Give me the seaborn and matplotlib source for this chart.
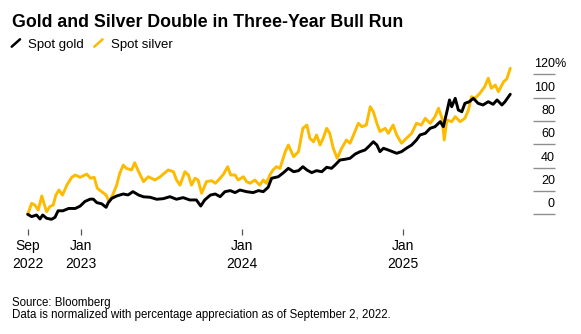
import matplotlib
matplotlib.use("Agg")
import matplotlib.pyplot as plt
import pandas as pd
import seaborn as sns

# Percentage change since 2022-09-02
gold_dates = [
    "2022-09-02", "2022-09-11", "2022-09-22", "2022-09-30", "2022-10-06", "2022-10-15",
    "2022-10-26", "2022-11-03", "2022-11-10", "2022-11-21", "2022-12-04", "2022-12-19",
    "2022-12-30", "2023-01-10", "2023-01-22", "2023-01-29", "2023-02-06", "2023-02-17",
    "2023-02-27", "2023-03-04", "2023-03-12", "2023-03-23", "2023-04-07", "2023-04-18",
    "2023-04-29", "2023-05-12", "2023-05-23", "2023-06-07", "2023-06-22", "2023-07-07",
    "2023-07-22", "2023-08-06", "2023-08-21", "2023-09-05", "2023-09-20", "2023-09-30",
    "2023-10-09", "2023-10-22", "2023-11-02", "2023-11-13", "2023-11-24", "2023-12-06",
    "2023-12-17", "2023-12-28", "2024-01-12", "2024-01-27", "2024-02-08", "2024-02-19",
    "2024-03-01", "2024-03-09", "2024-03-24", "2024-04-05", "2024-04-16", "2024-04-28",
    "2024-05-09", "2024-05-19", "2024-05-28", "2024-06-08", "2024-06-19", "2024-07-01",
    "2024-07-12", "2024-07-23", "2024-07-31", "2024-08-11", "2024-08-22", "2024-09-03",
    "2024-09-15", "2024-09-26", "2024-10-07", "2024-10-15", "2024-10-26", "2024-11-03",
    "2024-11-10", "2024-11-18", "2024-11-29", "2024-12-18", "2024-12-29", "2025-01-09",
    "2025-01-21", "2025-02-01", "2025-02-09", "2025-02-21", "2025-03-04", "2025-03-15",
    "2025-03-27", "2025-04-03", "2025-04-11", "2025-04-17", "2025-04-22", "2025-04-30",
    "2025-05-07", "2025-05-15", "2025-05-22", "2025-06-01", "2025-06-10", "2025-06-21",
    "2025-07-02", "2025-07-14", "2025-07-25", "2025-08-03", "2025-08-14", "2025-08-21",
    "2025-09-02",
]
gold_pct = [
    0, -2, -0.6, -4, -0.6, -3.4,
    -4.3, -2.6, 3, 3, 5, 5,
    7, 11, 13, 13, 10, 9,
    6, 10, 13.7, 15.7, 17.4, 16.6,
    19.4, 16.5, 15, 14.6, 12.9, 13.4,
    15.1, 12.9, 14.3, 12.3, 12.3, 7.1,
    12.3, 16.5, 17.4, 15.1, 19.4, 20.3,
    18.6, 20.8, 19.4, 18.6, 20.3, 19.4,
    23.1, 30.9, 32.2, 35.7, 39.4, 36.5,
    37.4, 40.8, 38, 35.7, 37.4, 36.5,
    40.3, 39.4, 42.2, 46.5, 47.1, 48,
    51.7, 53.7, 55.1, 57.9, 62.2, 59.4,
    53.7, 56.6, 55.1, 52.3, 53.7, 56.6,
    59.4, 63.7, 68, 69.4, 73.7, 75.1,
    79.4, 75.1, 87.9, 98, 92.2, 99.4,
    89.4, 87.9, 95.1, 96.5, 99.4, 95.1,
    93.7, 96.5, 94.3, 98, 93.7, 96.5,
    102.9,
]

silver_dates = [
    "2022-09-02", "2022-09-11", "2022-09-18", "2022-09-26", "2022-10-04", "2022-10-09",
    "2022-10-15", "2022-10-22", "2022-10-30", "2022-11-05", "2022-11-12", "2022-11-20",
    "2022-11-30", "2022-12-11", "2022-12-19", "2022-12-30", "2023-01-14", "2023-01-23",
    "2023-01-31", "2023-02-07", "2023-02-17", "2023-02-27", "2023-03-06", "2023-03-14",
    "2023-03-23", "2023-03-30", "2023-04-07", "2023-04-14", "2023-04-26", "2023-05-03",
    "2023-05-12", "2023-05-23", "2023-06-03", "2023-06-18", "2023-06-30", "2023-07-18",
    "2023-07-30", "2023-08-06", "2023-08-14", "2023-08-25", "2023-09-02", "2023-09-09",
    "2023-09-17", "2023-09-24", "2023-10-02", "2023-10-13", "2023-10-25", "2023-11-02",
    "2023-11-13", "2023-11-21", "2023-11-30", "2023-12-07", "2023-12-17", "2023-12-24",
    "2024-01-05", "2024-01-12", "2024-01-20", "2024-01-31", "2024-02-11", "2024-02-19",
    "2024-02-26", "2024-03-05", "2024-03-12", "2024-03-20", "2024-03-28", "2024-04-09",
    "2024-04-16", "2024-04-28", "2024-05-09", "2024-05-19", "2024-05-28", "2024-06-04",
    "2024-06-12", "2024-06-19", "2024-06-27", "2024-07-04", "2024-07-12", "2024-07-19",
    "2024-07-27", "2024-08-05", "2024-08-15", "2024-08-26", "2024-09-03", "2024-09-11",
    "2024-09-22", "2024-09-30", "2024-10-10", "2024-10-19", "2024-10-26", "2024-11-03",
    "2024-11-10", "2024-11-22", "2024-11-29", "2024-12-10", "2024-12-18", "2024-12-29",
    "2025-01-09", "2025-01-21", "2025-02-01", "2025-02-12", "2025-02-21", "2025-03-04",
    "2025-03-15", "2025-03-23", "2025-03-31", "2025-04-05", "2025-04-11", "2025-04-22",
    "2025-04-30", "2025-05-11", "2025-05-22", "2025-05-30", "2025-06-06", "2025-06-14",
    "2025-06-25", "2025-07-06", "2025-07-14", "2025-07-21", "2025-07-30", "2025-08-06",
    "2025-08-18", "2025-08-25", "2025-09-02",
]
silver_pct = [
    0, 9.4, 8, 3.7, 15.7, 9.4,
    2.2, 6.5, 8, 16.5, 20.8, 16.5,
    25, 31.7, 33.7, 31.7, 34.5, 30.9,
    31.7, 22.3, 19.4, 16.5, 10.8, 16.5,
    25, 35, 42.2, 39.4, 38, 44.2,
    36.5, 28, 32.2, 29.4, 32.2, 38,
    36.5, 29.4, 25, 36.5, 33.7, 25,
    30.9, 29.4, 18, 28, 28.8, 26.6,
    30.9, 34.5, 40.8, 33.7, 33.7, 29.4,
    32.2, 28, 26.6, 29.4, 25, 29.4,
    26.6, 33.7, 38, 40.8, 39.4, 53.7,
    59.4, 49.4, 53.7, 73.7, 76.5, 65.1,
    62.2, 68, 59.4, 65.1, 73.7, 69.4,
    56.6, 48, 56.6, 63.7, 60.9, 68,
    78, 75.1, 76.5, 92.2, 87.9, 78,
    71, 73.7, 69.4, 76.5, 68, 60.9,
    65.1, 69.4, 78, 76.5, 82.3, 78,
    83.7, 90.9, 82.3, 63.7, 80.8, 79.4,
    83.7, 79.4, 82.3, 89.4, 100.8, 99.4,
    103.7, 109.4, 116.6, 108, 110.8, 105.1,
    113.7, 116, 125.1,
]

y_ticks = [0, 20, 40, 60, 80, 100, 120]
x_tick_dates = ["2022-09-02", "2023-01-01", "2024-01-01", "2025-01-01"]
x_tick_labels = ["Sep\n2022", "Jan\n2023", "Jan\n2024", "Jan\n2025"]

title = "Gold and Silver Double in Three-Year Bull Run"
series_names = ["Spot gold", "Spot silver"]
footer_lines = ["Source: Bloomberg",
                "Data is normalized with percentage appreciation as of September 2, 2022."]

GOLD_COLOR = "#000000"
SILVER_COLOR = "#FDBB00"
GRID_COLOR = "#8f8f8f"

sns.set_theme(style="white")
plt.rcParams["font.family"] = ["Liberation Sans", "DejaVu Sans"]

W, H = 581, 334
fig = plt.figure(figsize=(W / 100, H / 100), dpi=100)


def fx(px):
    return px / W


def fy(py):
    return 1 - py / H


# plot area in pixel coordinates
left_px, right_px, top_px, bottom_px = 20, 570, 55, 229
ax = fig.add_axes([fx(left_px), fy(bottom_px),
                   (right_px - left_px) / W, (bottom_px - top_px) / H])

start = pd.Timestamp(gold_dates[0])
px_per_day = 0.4403
x0_px = 27.7
zero_px = 214.3
px_per_pct = 1.1667


def day_at(px):
    return start + pd.Timedelta(days=(px - x0_px) / px_per_day)


gold = pd.DataFrame({"date": pd.to_datetime(gold_dates), "pct": gold_pct})
silver = pd.DataFrame({"date": pd.to_datetime(silver_dates), "pct": silver_pct})

sns.lineplot(data=silver, x="date", y="pct", ax=ax, color=SILVER_COLOR,
             linewidth=2.1, estimator=None)
sns.lineplot(data=gold, x="date", y="pct", ax=ax, color=GOLD_COLOR,
             linewidth=2.1, estimator=None)

ax.set_xlim(day_at(left_px), day_at(right_px))
ax.set_ylim((zero_px - bottom_px) / px_per_pct, (zero_px - top_px) / px_per_pct)
for s in ax.spines.values():
    s.set_visible(False)
ax.set_xlabel("")
ax.set_ylabel("")
ax.set_yticks([])

# right-hand value scale: short rules with labels sitting above them
g_left, g_right = day_at(533), day_at(555)
for v in y_ticks:
    ax.hlines(v, g_left, g_right, color=GRID_COLOR, linewidth=1.0)
    ax.text(g_right, v + 6, str(v), ha="right", va="baseline",
            fontsize=9, color="#000000")
    if v == y_ticks[-1]:
        ax.text(g_right, v + 6, "%", ha="left", va="baseline",
                fontsize=9, color="#000000")

ax.set_xticks(pd.to_datetime(x_tick_dates))
ax.set_xticklabels(x_tick_labels, fontsize=10, color="#000000")
ax.tick_params(axis="x", bottom=True, length=4.5, width=0.9,
               color="#555555", pad=3, direction="out")
for lbl in ax.get_xticklabels():
    lbl.set_linespacing(1.3)

# title
fig.text(fx(11.7), fy(27.3), title, fontsize=12.8, fontweight="bold",
         ha="left", va="baseline", color="#000000")

# legend with slanted swatches
for (x_icon, x_text), name, col in zip([(11.7, 28.3), (94.3, 110.7)],
                                      series_names, [GOLD_COLOR, SILVER_COLOR]):
    fig.add_artist(plt.Line2D([fx(x_icon), fx(x_icon + 8.3)], [fy(46.7), fy(39.3)],
                              color=col, linewidth=1.8,
                              transform=fig.transFigure))
    fig.text(fx(x_text), fy(48.3), name, fontsize=9.5, ha="left",
             va="baseline", color="#000000")

# footer
fig.text(fx(11.7), fy(306), footer_lines[0], fontsize=8.3, ha="left",
         va="baseline", color="#000000")
fig.text(fx(11.7), fy(317.7), footer_lines[1], fontsize=8.3, ha="left",
         va="baseline", color="#000000")

fig.savefig("out.png", dpi=100, facecolor="white")
